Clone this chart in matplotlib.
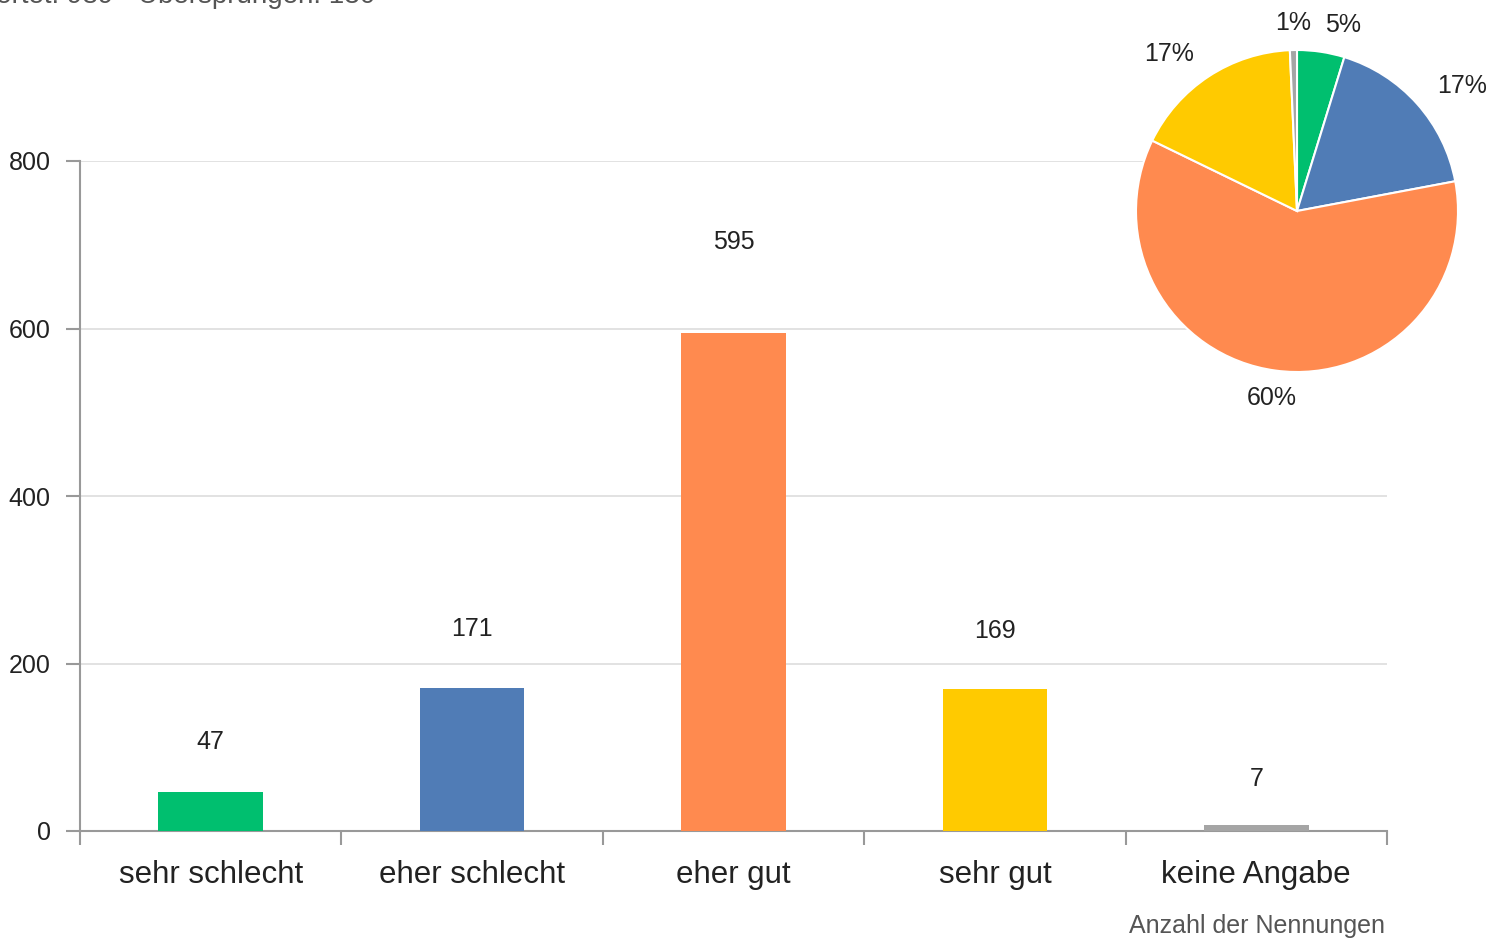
import matplotlib.pyplot as plt

# Antworten und Nennungen
categories = ['sehr schlecht', 'eher schlecht', 'eher gut', 'sehr gut', 'keine Angabe']
counts = [47, 171, 595, 169, 7]
colors = ['#00BF6F', '#507CB6', '#FF8A4F', '#FFCA00', '#A5A5A5']
header = 'Beantwortet: 989 · Übersprungen: 130'

plt.rcParams['font.family'] = ['Liberation Sans', 'DejaVu Sans']

fig = plt.figure(figsize=(14.88, 9.40), dpi=100)
ax = fig.add_axes([80 / 1488, 109 / 940, 1307 / 1488, 670 / 940])

x = range(len(categories))
ax.bar(x, counts, width=0.4, color=colors, zorder=3)
for i, v in enumerate(counts):
    ax.text(i, v + 55 + v * 0.09, str(v), ha='center', va='center',
            fontsize=18, color='#222222')

ax.set_xlim(-0.5, len(categories) - 0.5)
ax.set_ylim(0, 800)
ax.set_yticks([0, 200, 400, 600, 800])
ax.yaxis.grid(True, color='#DDDDDD', linewidth=1.2, zorder=0)
ax.set_xticks([i - 0.5 for i in range(len(categories) + 1)])
ax.set_xticklabels([])
ax.set_xticks(list(x), minor=True)
ax.set_xticklabels(categories, minor=True, fontsize=22.5, color='#222222')
ax.tick_params(axis='x', which='minor', length=0, pad=21)
ax.tick_params(axis='x', which='major', length=10, color='#999999', width=1.5)
ax.tick_params(axis='y', length=10, color='#999999', width=1.5,
               labelsize=18, labelcolor='#222222', pad=11)
for s in ['top', 'right']:
    ax.spines[s].set_visible(False)
for s in ['left', 'bottom']:
    ax.spines[s].set_color('#999999')
    ax.spines[s].set_linewidth(1.5)

fig.text(1385 / 1488, 1 - 926 / 940, 'Anzahl der Nennungen', ha='right', va='center',
         fontsize=18, color='#555555')
fig.text(375 / 1488, 1 - 3 / 940, header, ha='right', va='baseline',
         fontsize=20, color='#555555')

# Kreisdiagramm oben rechts
pax = fig.add_axes([(1297 - 161) / 1488, 1 - (211 + 161) / 940, 322 / 1488, 322 / 940])
wedges, texts, autotexts = pax.pie(
    counts, colors=colors, startangle=90, counterclock=False,
    autopct='%1.0f%%', pctdistance=1.17, radius=1,
    wedgeprops=dict(edgecolor='white', linewidth=1.5),
    textprops=dict(fontsize=18, color='#222222'))
for t in autotexts:
    tx = t.get_position()[0]
    if tx > 0.165:
        t.set_ha('left')
    elif tx < -0.165:
        t.set_ha('right')
pax.set_xlim(-1, 1)
pax.set_ylim(-1, 1)
pax.set_aspect('equal')

fig.savefig('out.png', dpi=100)
